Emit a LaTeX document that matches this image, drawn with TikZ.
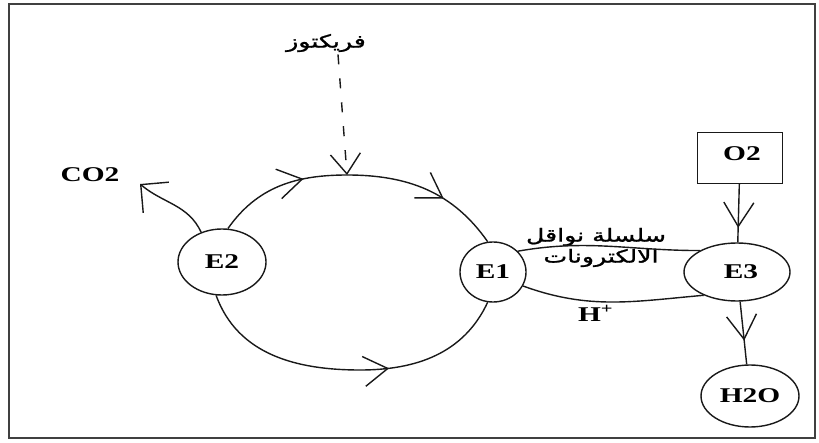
\documentclass[tikz,border=0pt]{standalone}
\usepackage{graphicx}
\usepackage{fontspec}
\setmainfont{Liberation Serif}
\newfontfamily\arabicfont[Script=Arabic, FakeBold=1.2]{DejaVu Sans}
\TeXXeTstate=1
\usetikzlibrary{arrows.meta,decorations.markings,shapes.geometric}
\newcommand{\stx}[1]{\scalebox{1.4}[1]{#1}}
\begin{document}
\begin{tikzpicture}[x=0.5pt,y=-0.5pt,
  line/.style={line width=0.7pt, draw=black!90},
  ell/.style={ellipse, draw=black!90, line width=0.7pt, inner sep=0pt},
  lbl/.style={font=\fontsize{10.5}{12}\selectfont\bfseries, inner sep=1pt},
  arab/.style={font=\fontsize{9}{11}\selectfont\arabicfont, inner sep=1pt},
  barb/.style={-{Straight Barb[length=10pt,width=15pt]}},
  midarrow/.style={postaction={decorate,decoration={markings,
    mark=at position #1 with {\arrow{Straight Barb[length=12pt,width=15pt]}}}}}
]
\useasboundingbox (0,0) rectangle (819,443);
\draw[line width=0.9pt, black!75] (9,4) rectangle (815,438);

% nodes
\node[ell, minimum width=44pt, minimum height=33pt] (E2) at (222,262) {};
\node[lbl] at (E2) {\stx{E2}};
\node[ell, minimum width=33pt, minimum height=30pt] (E1) at (493,272) {};
\node[lbl] at (E1) {\stx{E1}};
\node[ell, minimum width=53pt, minimum height=29pt] (E3) at (737,272) {};
\node[lbl] at (741,272) {\stx{E3}};
\node[ell, minimum width=49pt, minimum height=31pt] (H2O) at (750,396) {};
\node[lbl] at (H2O) {\stx{H2O}};
\node[draw=black!90, line width=0.7pt, minimum width=42.5pt, minimum height=25.5pt, inner sep=0pt] (O2) at (740,158) {};
\node[lbl] at (742,154) {\stx{O2}};

\node[lbl] (co2) at (90,175) {\stx{CO2}};
\node[arab] (fru) at (326,43) {\stx{\beginR فريكتوز\endR}};
\node[arab] (chain1) at (596,237) {\stx{\beginR سلسلة نواقل\endR}};
\node[arab] (chain2) at (601,258) {\stx{\beginR الالكترونات\endR}};
\node[lbl] (hplus) at (596,313) {\stx{H\textsuperscript{+}}};

\coordinate (top) at (347,175);
\coordinate (bot) at (360,370);
\coordinate (co2tip) at (140,184);

% loop
\draw[line, midarrow=0.68] (E2.80) to[out=55,in=180] (top);
\draw[line, midarrow=0.62] (top) to[out=0,in=125] (E1.100);
\draw[line, midarrow=0.62] (E2.-100) to[out=-70,in=180] (bot) to[out=0,in=-115] (E1.-100);

% fructose
\draw[line, dash pattern=on 5pt off 7pt, barb] ([xshift=6pt]fru.south) -- (top);

% CO2
\draw[line, -{Straight Barb[length=10pt,width=20pt]}] (E2.125) to[out=115,in=-40] (co2tip);

% electron chain and H+
\draw[line] (E1.40) to[out=10,in=180] (E3.150);
\draw[line] (E1.-25) to[out=-20,in=185] (E3.-145);

% O2 and H2O
\draw[line, midarrow=0.75] (O2) -- (E3);
\draw[line, midarrow=0.62] (E3) -- (H2O);
\end{tikzpicture}
\end{document}
